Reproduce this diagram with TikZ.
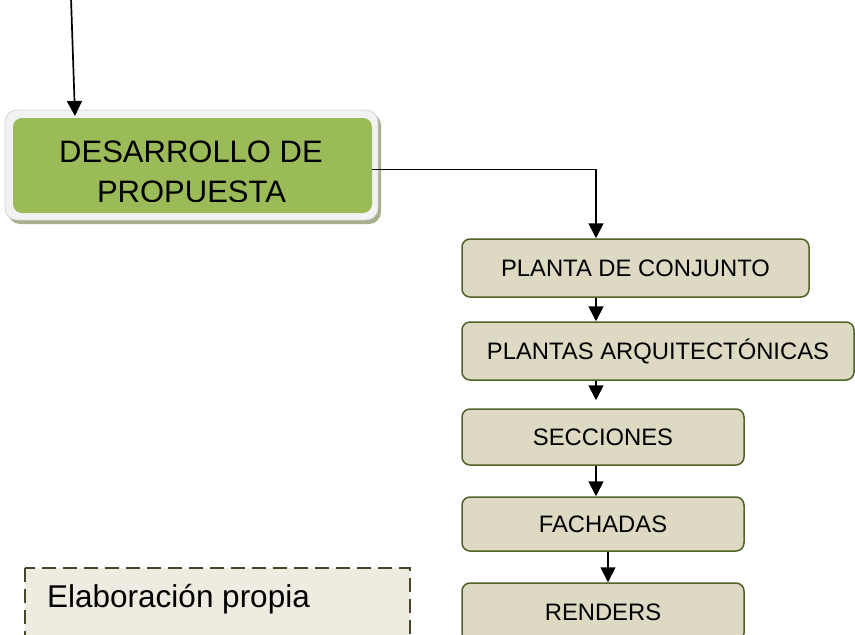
\documentclass[tikz,border=0pt]{standalone}
\usepackage{fontspec}
\setmainfont{Liberation Sans}
\usetikzlibrary{arrows.meta}
\definecolor{boxfill}{HTML}{DDD9C3}
\definecolor{boxline}{HTML}{4F6228}
\definecolor{greenfill}{HTML}{9BBB59}
\definecolor{framefill}{HTML}{F2F2F2}
\definecolor{frameline}{HTML}{D4D4D4}
\definecolor{shadowc}{RGB}{165,175,140}
\definecolor{notefill}{HTML}{EEECE1}
\definecolor{noteline}{HTML}{4A452A}
\tikzset{
  stepbox/.style={draw=boxline, fill=boxfill, line width=1.5pt, rounded corners=8pt,
    inner sep=0pt, text height=17pt, text depth=0pt, font=\fontsize{23.8}{28}\selectfont},
  arr/.style={line width=1.7pt, -{Triangle[length=15pt,width=15pt]}},
  biglabel/.style={anchor=base, inner sep=0pt, font=\fontsize{31}{40}\selectfont}
}
\begin{document}
\begin{tikzpicture}[x=1pt,y=-1pt]
\useasboundingbox (0,0) rectangle (855,635);
% green box with frame and shadow
\fill[shadowc, rounded corners=12pt] (8,113) rectangle (381,224);
\draw[frameline, fill=framefill, line width=0.8pt, rounded corners=12pt] (5,110) rectangle (378,220);
\node[fill=greenfill, rounded corners=9pt, inner sep=0pt, minimum width=359pt, minimum height=95pt] (des) at (192.5,165.5) {};
\begin{scope}
\clip (0,0) rectangle (855,201.5);
\node[biglabel] (desa) at (191,162) {DESARROLLO DE};
\node[biglabel] (desb) at (191.5,202) {PROPUESTA};
\end{scope}
% step boxes
\node[stepbox, minimum width=347pt, minimum height=58pt] (pc) at (635.5,268) {PLANTA DE CONJUNTO};
\node[stepbox, minimum width=392pt, minimum height=58pt] (pa) at (658,351) {PLANTAS ARQUITECTÓNICAS};
\node[stepbox, minimum width=282pt, minimum height=56pt] (sec) at (603,437) {SECCIONES};
\node[stepbox, minimum width=282pt, minimum height=54pt] (fac) at (603,524) {FACHADAS};
\node[stepbox, minimum width=282pt, minimum height=58pt] (ren) at (603,612) {RENDERS};
% note box
\draw[noteline, fill=notefill, line width=2.6pt, dash pattern=on 14pt off 7pt] (25,568) rectangle (410,650);
\node[anchor=base west, inner sep=0pt, font=\fontsize{31.5}{38}\selectfont] (note) at (47,607) {Elaboración propia};
% connectors
\coordinate (top) at (71,-2);
\coordinate (topend) at (75,116);
\coordinate (ax) at (596,0);
\coordinate (bx) at (608,0);
\draw[arr] (top) -- (topend);
\draw[arr] ([yshift=-4pt]des.east) -| (pc.north -| ax);
\draw[arr] (pc.south -| ax) -- (pa.north -| ax);
\draw[arr, shorten >=8pt] (pa.south -| ax) -- (sec.north -| ax);
\draw[arr] (sec.south -| ax) -- (fac.north -| ax);
\draw[arr] (fac.south -| bx) -- (ren.north -| bx);
\end{tikzpicture}
\end{document}
